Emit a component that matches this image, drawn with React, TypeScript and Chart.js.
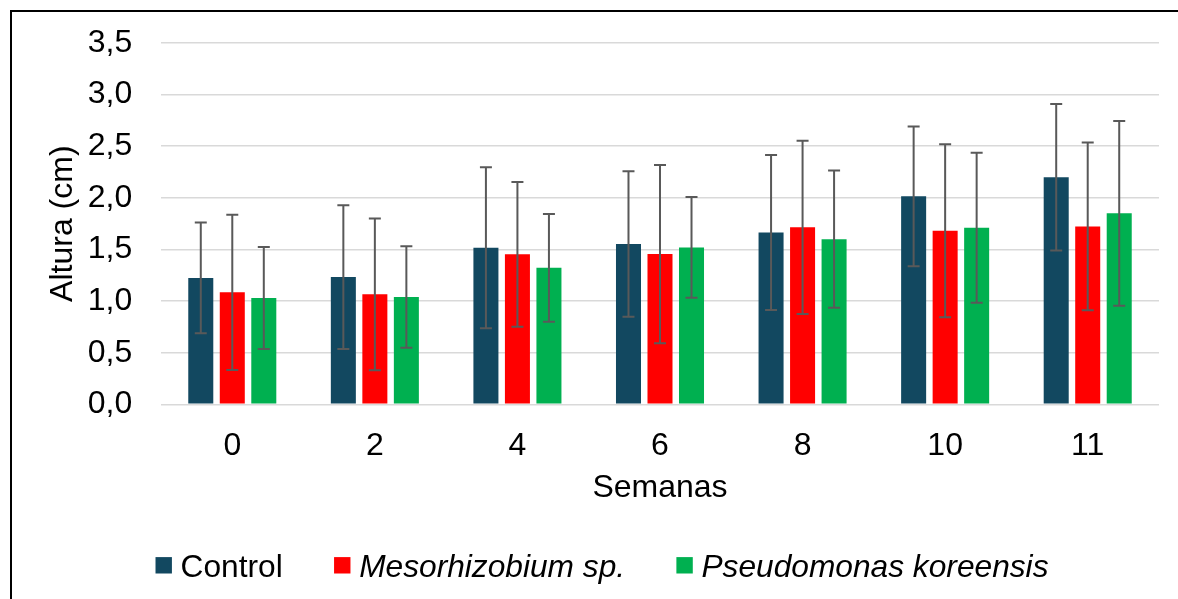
import React, { useEffect, useRef } from 'react';
import { Chart, registerables } from 'chart.js';

Chart.register(...registerables);

// ---- Data ----
const weeks: string[] = ['0', '2', '4', '6', '8', '10', '11'];
const seriesNames: string[] = ['Control', 'Mesorhizobium sp.', 'Pseudomonas koreensis'];
const controlMeans: number[] = [1.224, 1.232, 1.516, 1.553, 1.665, 2.015, 2.2];
const mesoMeans: number[] = [1.085, 1.065, 1.453, 1.455, 1.714, 1.682, 1.723];
const pseudoMeans: number[] = [1.03, 1.04, 1.322, 1.52, 1.6, 1.71, 1.85];
const controlErr: number[] = [0.536, 0.696, 0.78, 0.705, 0.751, 0.677, 0.71];
const mesoErr: number[] = [0.752, 0.736, 0.701, 0.864, 0.84, 0.838, 0.812];
const pseudoErr: number[] = [0.495, 0.492, 0.522, 0.487, 0.665, 0.727, 0.895];
const yMin = 0;
const yMax = 3.5;
const yStep = 0.5;
const yTitle = 'Altura (cm)';
const xTitle = 'Semanas';

const colors = ['#124860', '#FF0000', '#00B050'];
const italicFlags = [false, true, true];
const FONT = '"Liberation Sans", Arial, Helvetica, sans-serif';
const AXIS_FONT_SIZE = 32;

const errorBarPlugin = {
  id: 'errorBars',
  afterDatasetsDraw(chart: any) {
    const ctx = chart.ctx;
    const yScale = chart.scales.y;
    chart.data.datasets.forEach((ds: any, i: number) => {
      const meta = chart.getDatasetMeta(i);
      meta.data.forEach((bar: any, j: number) => {
        const v = ds.data[j];
        const e = ds.errors[j];
        const yt = yScale.getPixelForValue(v + e);
        const yb = yScale.getPixelForValue(v - e);
        const x = bar.x;
        ctx.save();
        ctx.strokeStyle = '#595959';
        ctx.lineWidth = 2;
        ctx.beginPath();
        ctx.moveTo(x, yt);
        ctx.lineTo(x, yb);
        ctx.moveTo(x - 6, yt);
        ctx.lineTo(x + 6, yt);
        ctx.moveTo(x - 6, yb);
        ctx.lineTo(x + 6, yb);
        ctx.stroke();
        ctx.restore();
      });
    });
  },
};

const legendPlugin = {
  id: 'customLegend',
  afterDraw(chart: any) {
    const ctx = chart.ctx;
    const size = 31.7;
    const box = 16.4;
    const gapText = 8.7;
    const gapItem = 51.3;
    const items = chart.data.datasets.map((ds: any) => ({
      text: ds.label,
      color: ds.backgroundColor,
      italic: ds.italic,
    }));
    ctx.save();
    const widths = items.map((it: any) => {
      ctx.font = `${it.italic ? 'italic ' : ''}${size}px ${FONT}`;
      return ctx.measureText(it.text).width;
    });
    const total =
      widths.reduce((a: number, w: number) => a + w + box + gapText, 0) + gapItem * (items.length - 1);
    let x = chart.width / 2 - total / 2;
    const baseY = chart.height - 22.5;
    items.forEach((it: any, k: number) => {
      ctx.fillStyle = it.color;
      ctx.fillRect(x, baseY - 19.4, box, box);
      x += box + gapText;
      ctx.font = `${it.italic ? 'italic ' : ''}${size}px ${FONT}`;
      ctx.fillStyle = '#000';
      ctx.textBaseline = 'alphabetic';
      ctx.textAlign = 'left';
      ctx.fillText(it.text, x, baseY);
      x += widths[k] + gapItem;
    });
    ctx.restore();
  },
};

export default function App() {
  const ref = useRef<HTMLCanvasElement | null>(null);

  useEffect(() => {
    if (!ref.current) return;
    const means = [controlMeans, mesoMeans, pseudoMeans];
    const errs = [controlErr, mesoErr, pseudoErr];
    const chart = new Chart(ref.current, {
      type: 'bar',
      data: {
        labels: weeks,
        datasets: seriesNames.map((name, i) => ({
          label: name,
          data: means[i],
          errors: errs[i],
          italic: italicFlags[i],
          backgroundColor: colors[i],
          borderWidth: 0,
          categoryPercentage: 0.663,
          barPercentage: 0.794,
        })) as any,
      },
      options: {
        responsive: false,
        animation: false,
        devicePixelRatio: 1,
        layout: { padding: { top: 31, right: 33, left: 0, bottom: 0 } },
        plugins: {
          legend: { display: false },
          tooltip: { enabled: false },
        },
        scales: {
          x: {
            grid: { display: false, drawTicks: false },
            border: { display: false },
            ticks: {
              color: '#000',
              padding: 22.5,
              font: { family: FONT, size: AXIS_FONT_SIZE },
              maxRotation: 0,
            },
            title: {
              display: true,
              text: xTitle,
              color: '#000',
              font: { family: FONT, size: AXIS_FONT_SIZE },
              padding: { top: 0, bottom: 91.8 },
            },
            afterFit: (scale: any) => {
              scale.height = 194.7;
              scale.paddingLeft = 0;
              scale.paddingRight = 0;
            },
          },
          y: {
            min: yMin,
            max: yMax,
            grid: { color: '#D9D9D9', lineWidth: 1.5, drawTicks: false },
            border: { display: false },
            ticks: {
              stepSize: yStep,
              color: '#000',
              padding: 28.7,
              font: { family: FONT, size: AXIS_FONT_SIZE },
              callback: (v: any) => Number(v).toFixed(1).replace('.', ','),
            },
            title: {
              display: true,
              text: yTitle,
              color: '#000',
              font: { family: FONT, size: AXIS_FONT_SIZE },
              padding: { top: 31.8, bottom: 0 },
            },
            afterFit: (scale: any) => {
              scale.width = 149;
              scale.paddingTop = 0;
              scale.paddingBottom = 0;
            },
          },
        },
      } as any,
      plugins: [errorBarPlugin, legendPlugin],
    });
    return () => chart.destroy();
  }, []);

  return (
    <div
      style={{
        position: 'fixed',
        left: 0,
        top: 0,
        width: 1178,
        height: 599,
        overflow: 'hidden',
        background: '#fff',
      }}
    >
      <div
        style={{
          position: 'absolute',
          left: 10,
          top: 10,
          width: 1184,
          height: 640,
          borderTop: '2px solid #000',
          borderLeft: '2px solid #000',
          boxSizing: 'border-box',
        }}
      >
        <canvas
          ref={ref}
          width={1180}
          height={587}
          style={{ position: 'absolute', left: 0, top: 0, width: 1180, height: 587 }}
        />
      </div>
    </div>
  );
}
